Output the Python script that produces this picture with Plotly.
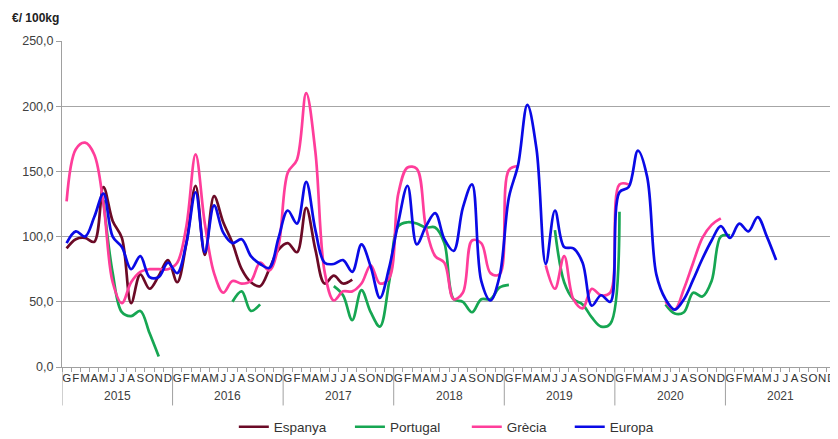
import plotly.graph_objects as go

""" Data """
years = ["2015", "2016", "2017", "2018", "2019", "2020", "2021"]
months = ["G", "F", "M", "A", "M", "J", "J", "A", "S", "O", "N", "D"]

espanya = [91, 98, 99, 96, 138, 112, 99, 49, 71, 60, 70, 82,
           65, 95, 139, 86, 131, 111, 95, 75, 65, 62, 75, 90,
           95, 88, 122, 90, 64, 70, 64, 67, None, None, None, None] + [None] * 48

portugal = [None, None, None, None, 128, 72, 42, 39, 43, 26, 8, None,
            None, None, None, None, None, None, 50, 58, 43, 48, None, None,
            None, None, None, None, None, 62, 55, 36, 59, 42, 31, 65,
            108, 111, 110, 107, 107, 95, 52, 50, 42, 52, 52, 61,
            63, None, None, None, None, 105, 65, 52, 48, 38, 31, 33,
            119, None, None, None, None, 48, 41, 42, 57, 54, 66, 100,
            101] + [None] * 11

grecia = [127, 167, 172, 163, 125, 65, 49, 65, 73, 75, 75, 75,
          80, 108, 163, 110, 72, 57, 66, 64, 66, 80, 74, 93,
          149, 159, 210, 165, 73, 51, 58, 58, 64, 78, 64, 68,
          133, 153, 152, 107, 85, 80, 52, 57, 97, 95, 72, 71,
          151, 154, None, None, 78, 60, 85, 52, 45, 60, 55, 57,
          140, 140, None, None, None, 50, 44, 60, 80, 99, 109, 114] + [None] * 12

europa = [95, 104, 100, 115, 133, 100, 92, 75, 85, 69, 69, 80,
          72, 95, 134, 88, 124, 103, 95, 98, 85, 79, 76, 99,
          120, 110, 142, 105, 80, 79, 82, 73, 94, 77, 53, 76,
          111, 139, 94, 108, 118, 98, 89, 122, 140, 66, 51, 70,
          130, 155, 201, 167, 79, 120, 92, 91, 80, 47, 55, 50,
          134, 138, 166, 146, 71, 52, 44, 52, 67, 83, 97, 108,
          99, 110, 104, 115, 100, 82, None, None, None, None, None, None]

series = [("Espanya", espanya, "#6b0a26"),
          ("Portugal", portugal, "#16a652"),
          ("Grècia", grecia, "#ff3d9a"),
          ("Europa", europa, "#0a0ae6")]

# legend entry positions (paper x), one legend per series
legend_x = [0.222, 0.372, 0.523, 0.656]

n = len(years) * len(months)
x = list(range(n))
ticktext = months * len(years)

fig = go.Figure()
legends = {}
for i, (name, vals, col) in enumerate(series):
    key = "legend" if i == 0 else "legend%d" % (i + 1)
    fig.add_trace(go.Scatter(
        x=x, y=vals, name=name, mode="lines", legend=key,
        line=dict(color=col, width=2.7, shape="spline", smoothing=1.0),
    ))
    legends[key] = dict(orientation="h", x=legend_x[i], y=-0.184,
                        xanchor="left", yanchor="middle",
                        font=dict(size=13.5, color="#333333"),
                        bgcolor="rgba(0,0,0,0)")

# year dividers below the axis and year labels
for k in range(len(years) + 1):
    fig.add_shape(type="line", xref="x", yref="paper",
                  x0=k * 12 - 0.5, x1=k * 12 - 0.5, y0=0, y1=-0.118,
                  line=dict(color="#a0a0a0", width=1))
for k, yr in enumerate(years):
    fig.add_annotation(x=k * 12 + 5.5, y=-0.088, xref="x", yref="paper",
                       text=yr, showarrow=False, yanchor="middle",
                       font=dict(size=12, color="#404040"))

fig.add_annotation(x=-0.067, y=1.071, xref="paper", yref="paper",
                   text="<b>€/ 100kg</b>", showarrow=False,
                   xanchor="left", yanchor="middle",
                   font=dict(size=12, color="#222222"))

# page body has an 8px margin, so the figure is sized to fit inside it
fig.update_layout(
    width=830, height=431,
    margin=dict(l=54, r=2, t=33, b=72, autoexpand=False),
    paper_bgcolor="white",
    plot_bgcolor="white",
    separators=",.",
    font=dict(family="Liberation Sans, Arial", color="#404040"),
    xaxis=dict(
        range=[-0.5, n - 0.5],
        tickmode="array", tickvals=x, ticktext=ticktext,
        tickangle=0, ticks="", showgrid=False, zeroline=False,
        showline=True, linecolor="#a0a0a0", linewidth=1,
        tickfont=dict(size=11.5, color="#333333"),
        minor=dict(tick0=-0.5, dtick=1, ticks="outside", ticklen=4,
                   tickcolor="#a0a0a0", showgrid=False),
    ),
    yaxis=dict(
        range=[0, 250], tickvals=[0, 50, 100, 150, 200, 250],
        tickformat=".1f", showgrid=True, gridcolor="#a6a6a6",
        gridwidth=1, zeroline=False, showline=True,
        linecolor="#a0a0a0", linewidth=1, ticks="outside", ticklen=5,
        tickcolor="#a0a0a0", tickfont=dict(size=12.5, color="#404040"),
    ),
    showlegend=True,
    **legends,
)

fig.write_html("out.html")
